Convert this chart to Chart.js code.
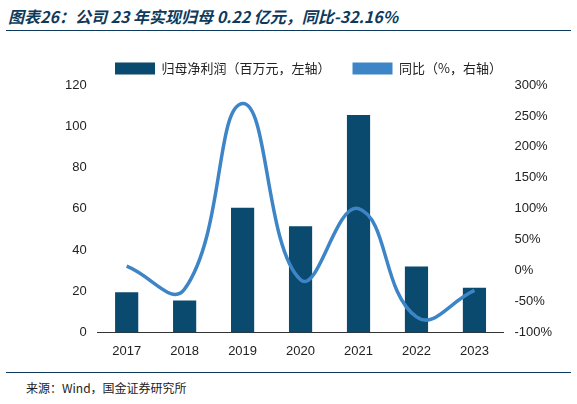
<!DOCTYPE html>
<html>
<head>
<meta charset="utf-8">
<script src="https://cdn.jsdelivr.net/npm/chart.js@4"></script>
<style>
  body { margin: 0; background: #fff; font-family: "Noto Sans CJK SC", sans-serif; }
  #title { position: absolute; left: 8px; top: 4px; font-size: 16px; font-weight: bold; font-style: italic; color: #0d3a5c; }
  #titleLine { position: absolute; left: 6px; top: 30px; width: 565px; border-top: 1px solid #0d3a5c; }
  #box { position: absolute; left: 0; top: 40px; width: 577px; height: 322px; }
  #srcLine { position: absolute; left: 6px; top: 372px; width: 565px; border-top: 1px solid #0d3a5c; }
  #src { position: absolute; left: 26px; top: 379px; font-size: 12px; color: #222; }
</style>
</head>
<body>
<div id="title">图表26：公司 23 年实现归母 0.22 亿元，同比-32.16%</div>
<div id="titleLine"></div>
<div id="box"><canvas id="mainChart"></canvas></div>
<div id="srcLine"></div>
<div id="src">来源：Wind，国金证券研究所</div>
<script>
// data
const years = ["2017", "2018", "2019", "2020", "2021", "2022", "2023"];
const netProfit = [19.5, 15.5, 60.5, 51.5, 105.5, 32, 21.7];
const yoy = [7, -30, 270, -15, 100, -75, -32.16];

const barColor = "#0b4a6f";
const lineColor = "#3d85c6";

const ctx = document.getElementById("mainChart").getContext("2d");
new Chart(ctx, {
    data: {
        labels: years,
        datasets: [{
            type: "bar",
            label: "归母净利润（百万元，左轴）",
            data: netProfit,
            backgroundColor: barColor,
            barPercentage: 0.5,
            categoryPercentage: 0.8,
            yAxisID: "y",
            order: 2
        }, {
            type: "line",
            label: "同比（%，右轴）",
            data: yoy,
            borderColor: lineColor,
            borderWidth: 3.5,
            pointRadius: 0,
            tension: 0.45,
            yAxisID: "y1",
            order: 1
        }]
    },
    options: {
        responsive: true,
        maintainAspectRatio: false,
        animation: false,
        layout: { padding: { left: 62, right: 22, top: 0, bottom: 0 } },
        plugins: {
            legend: {
                position: "top",
                labels: {
                    font: { size: 13, family: "Noto Sans CJK SC" }, color: "#222", padding: 22,
                    boxWidth: 40, boxHeight: 12,
                    generateLabels: () => [
                        { text: "归母净利润（百万元，左轴）", fillStyle: barColor, strokeStyle: barColor, lineWidth: 0, datasetIndex: 0, fontColor: "#222" },
                        { text: "同比（%，右轴）", fillStyle: lineColor, strokeStyle: lineColor, lineWidth: 0, datasetIndex: 1, fontColor: "#222" }
                    ]
                }
            },
            tooltip: { enabled: false }
        },
        scales: {
            x: {
                grid: { display: false },
                border: { color: "#333" },
                ticks: { color: "#222", font: { size: 13 } }
            },
            y: {
                position: "left",
                min: 0, max: 120,
                ticks: { stepSize: 20, color: "#222", font: { size: 13 } },
                grid: { display: false },
                border: { display: false }
            },
            y1: {
                position: "right",
                min: -100, max: 300,
                ticks: { stepSize: 50, color: "#222", font: { size: 13 }, callback: v => v + "%" },
                grid: { display: false },
                border: { display: false }
            }
        }
    }
});
</script>
</body>
</html>
